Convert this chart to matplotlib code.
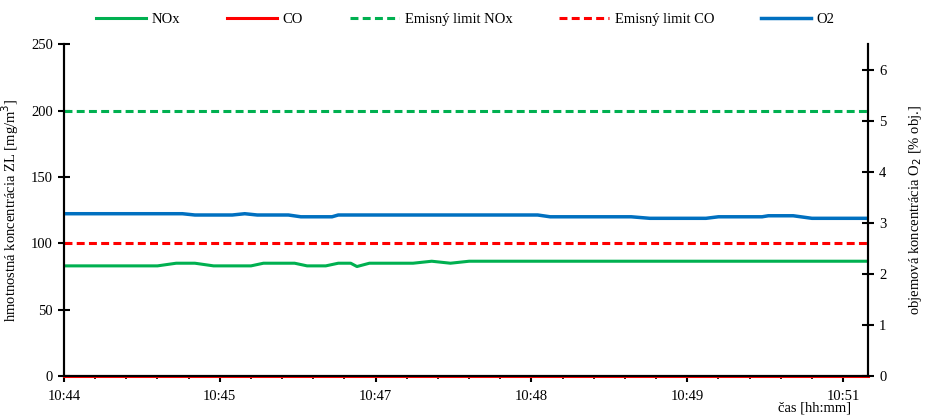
import matplotlib
matplotlib.use("Agg")
import matplotlib.pyplot as plt
from matplotlib.ticker import FixedLocator, MultipleLocator

NOX_X = [0, 15, 18, 21, 24, 30, 32, 37, 39, 42, 44, 46, 47, 49, 56, 59, 62, 65, 129]
NOX_Y = [83, 83, 85, 85, 83, 83, 85, 85, 83, 83, 85, 85, 82.5, 85, 85, 86.5, 85, 86.5, 86.5]

O2_X = [0, 19, 21, 27, 29, 31, 36, 38, 43, 44, 76, 78, 91, 94, 103, 105, 112, 113, 117, 120, 129]
O2_Y = [3.18, 3.18, 3.155, 3.155, 3.18, 3.155, 3.155, 3.12, 3.12, 3.155, 3.155, 3.12,
        3.12, 3.09, 3.09, 3.12, 3.12, 3.14, 3.14, 3.09, 3.09]

CO_X = [0, 129]
CO_Y = [0, 0]

LIMIT_NOX = 200
LIMIT_CO = 100

TICK_POS = [0, 25, 50, 75, 100, 125]
TICK_LABELS = ["10:44", "10:45", "10:47", "10:48", "10:49", "10:51"]
X_END = 129

# --- style -------------------------------------------------------------------
GREEN = "#00B050"
RED = "#FF0000"
BLUE = "#0070C0"
LW = 2.2
DASH = (2.6, 1.4)

plt.rcParams.update({
    "font.family": ["Liberation Serif", "DejaVu Serif"],
    "font.size": 10.5,
})

fig = plt.figure(figsize=(9.25, 4.18), dpi=100)
ax = fig.add_axes([0.0692, 0.1005, 0.8692, 0.7935])
ax2 = ax.twinx()

l_nox, = ax.plot(NOX_X, NOX_Y, color=GREEN, lw=LW, label="NOx")
l_co, = ax.plot(CO_X, CO_Y, color=RED, lw=LW, label="CO", clip_on=False, zorder=5)
l_lnox = ax.axhline(LIMIT_NOX, color=GREEN, lw=LW, dashes=DASH, label="Emisný limit NOx")
l_lco = ax.axhline(LIMIT_CO, color=RED, lw=LW, dashes=DASH, label="Emisný limit CO")
l_o2, = ax2.plot(O2_X, O2_Y, color=BLUE, lw=LW + 0.3, label="O2")

ax.set_xlim(0, X_END)
ax.set_ylim(0, 250)
ax2.set_ylim(0, 6.5)
ax.yaxis.set_major_locator(MultipleLocator(50))
ax2.yaxis.set_major_locator(MultipleLocator(1))

ax.xaxis.set_major_locator(FixedLocator(TICK_POS))
ax.set_xticklabels(TICK_LABELS)
ax.xaxis.set_minor_locator(MultipleLocator(5))

for a in (ax, ax2):
    a.spines["top"].set_visible(False)
    for s in ("left", "right", "bottom"):
        a.spines[s].set_linewidth(1.5)

ax.tick_params(axis="y", direction="inout", length=8, width=1.5, pad=4)
ax2.tick_params(axis="y", direction="inout", length=8, width=1.5, pad=4)
ax.tick_params(axis="x", which="major", direction="out", length=4, width=1.5, pad=6)
ax.tick_params(axis="x", which="minor", direction="out", length=2.5, width=1.2)

ax.set_ylabel("hmotnostná koncentrácia ZL [mg/m$^3$]")
ax.yaxis.set_label_coords(-0.054, 0.5)
ax2.set_ylabel("objemová koncentrácia O$_2$ [% obj.]")
ax2.yaxis.set_label_coords(1.048, 0.5)
ax.set_xlabel("čas [hh:mm]")
ax.xaxis.set_label_coords(0.934, -0.078)

fig.legend(handles=[l_nox, l_co, l_lnox, l_lco, l_o2], loc="upper center",
           bbox_to_anchor=(0.503, 1.0), ncol=5, frameon=False,
           handlelength=3.4, columnspacing=3.2, handletextpad=0.4)

fig.savefig("out.png", dpi=100)
